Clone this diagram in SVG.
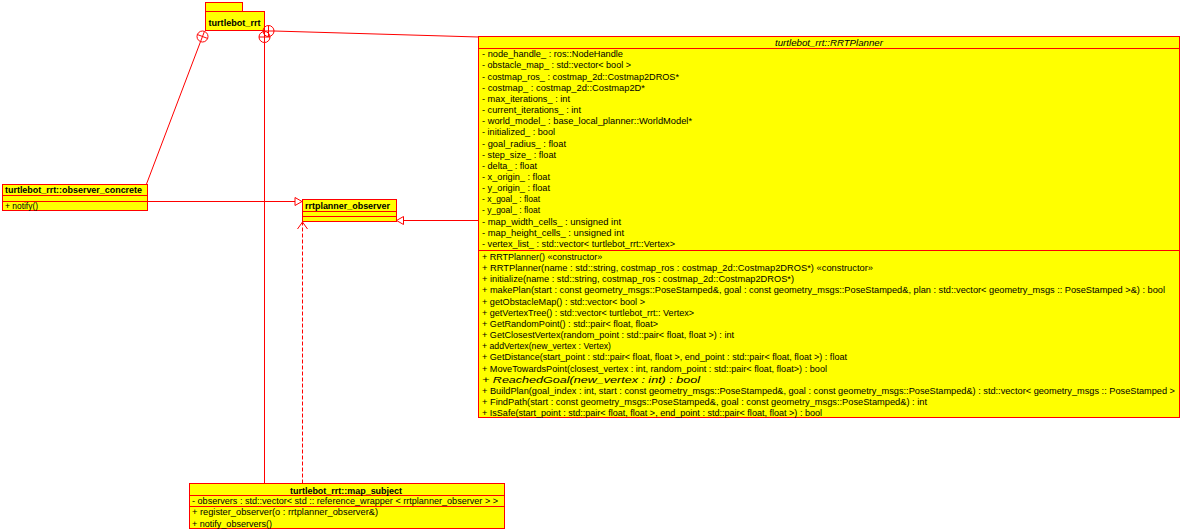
<svg xmlns="http://www.w3.org/2000/svg" width="1183" height="529" viewBox="0 0 1183 529">
  <style>
    .box { fill: #FFFF00; stroke: #FF0000; stroke-width: 1; }
    .sep { stroke: #FF0000; stroke-width: 1; fill: none; }
    .edge { stroke: #FF0000; stroke-width: 1; fill: none; }
    .dash { stroke-dasharray: 4 2; }
    .head { fill: #FFFFFF; stroke: #FF0000; stroke-width: 1; }
    text { font-family: "Liberation Sans", Arial, sans-serif; font-size: 9px; fill: #000000; }
    .name { font-weight: bold; }
    .abstract { font-style: italic; }
  </style>

  <!-- package -->
  <g id="pkg_turtlebot_rrt">
    <rect class="box" x="205.5" y="2.5" width="37" height="9"/>
    <rect class="box" x="205.5" y="11.5" width="59" height="19"/>
    <text class="name" x="208.5" y="25.5" textLength="52" lengthAdjust="spacingAndGlyphs">turtlebot_rrt</text>
  </g>

  <!-- connectors -->
  <g id="connectors">
    <!-- containment: package to observer_concrete -->
    <line class="edge" x1="146.5" y1="184" x2="200.53" y2="41.64"/>
    <circle class="edge" cx="202.5" cy="36.5" r="5.5"/>
    <line class="edge" x1="204.47" y1="31.36" x2="200.53" y2="41.64"/>
    <line class="edge" x1="197.36" y1="34.53" x2="207.64" y2="38.47"/>

    <!-- containment: package to map_subject -->
    <line class="edge" x1="264.5" y1="42.5" x2="264.5" y2="483.5"/>
    <circle class="edge" cx="264.5" cy="37" r="5.5"/>
    <line class="edge" x1="264.5" y1="31.5" x2="264.5" y2="42.5"/>
    <line class="edge" x1="259" y1="37" x2="270" y2="37"/>

    <!-- containment: package to RRTPlanner -->
    <line class="edge" x1="274" y1="31" x2="478.5" y2="37"/>
    <circle class="edge" cx="268.5" cy="31" r="5.5"/>
    <line class="edge" x1="263" y1="31" x2="274" y2="31"/>
    <line class="edge" x1="268.5" y1="25.5" x2="268.5" y2="36.5"/>

    <!-- generalization: observer_concrete to rrtplanner_observer -->
    <line class="edge" x1="147.5" y1="201.5" x2="295" y2="201.5"/>
    <polygon class="head" points="302,201.5 295,197.5 295,205.5"/>

    <!-- generalization: RRTPlanner to rrtplanner_observer -->
    <line class="edge" x1="478.5" y1="220.5" x2="403.5" y2="220.5"/>
    <polygon class="head" points="396.5,220.5 403.5,216.5 403.5,224.5"/>

    <!-- realization: map_subject to rrtplanner_observer -->
    <line class="edge dash" x1="302.5" y1="483.5" x2="302.5" y2="222.5"/>
    <polyline class="edge" points="297.5,229 302.5,222 307.5,229"/>
  </g>

  <!-- observer_concrete -->
  <g id="observer_concrete">
    <rect class="box" x="2.5" y="184.5" width="145" height="26"/>
    <line class="sep" x1="2.5" y1="195.5" x2="147.5" y2="195.5"/>
    <line class="sep" x1="2.5" y1="201.5" x2="147.5" y2="201.5"/>
    <text class="name" x="5" y="192.5" textLength="137" lengthAdjust="spacingAndGlyphs">turtlebot_rrt::observer_concrete</text>
    <text x="5" y="209" textLength="33" lengthAdjust="spacingAndGlyphs">+ notify()</text>
  </g>

  <!-- rrtplanner_observer -->
  <g id="rrtplanner_observer">
    <rect class="box" x="302.5" y="199.5" width="94" height="22"/>
    <line class="sep" x1="302.5" y1="211.5" x2="396.5" y2="211.5"/>
    <line class="sep" x1="302.5" y1="216.5" x2="396.5" y2="216.5"/>
    <text class="name" x="305" y="208.5" textLength="85" lengthAdjust="spacingAndGlyphs">rrtplanner_observer</text>
  </g>

  <!-- RRTPlanner -->
  <g id="RRTPlanner">
    <rect class="box" x="478.5" y="36.5" width="701" height="381"/>
    <line class="sep" x1="478.5" y1="48.5" x2="1179.5" y2="48.5"/>
    <line class="sep" x1="478.5" y1="250.5" x2="1179.5" y2="250.5"/>
    <text class="abstract" x="775" y="45.5" textLength="108" lengthAdjust="spacingAndGlyphs">turtlebot_rrt::RRTPlanner</text>

    <text x="482" y="57.3" textLength="141" lengthAdjust="spacingAndGlyphs">- node_handle_ : ros::NodeHandle</text>
    <text x="482" y="68.45" textLength="149" lengthAdjust="spacingAndGlyphs">- obstacle_map_ : std::vector&lt; bool &gt;</text>
    <text x="482" y="79.6" textLength="197" lengthAdjust="spacingAndGlyphs">- costmap_ros_ : costmap_2d::Costmap2DROS*</text>
    <text x="482" y="90.75" textLength="163" lengthAdjust="spacingAndGlyphs">- costmap_ : costmap_2d::Costmap2D*</text>
    <text x="482" y="101.9" textLength="88" lengthAdjust="spacingAndGlyphs">- max_iterations_ : int</text>
    <text x="482" y="113.05" textLength="99" lengthAdjust="spacingAndGlyphs">- current_iterations_ : int</text>
    <text x="482" y="124.2" textLength="210" lengthAdjust="spacingAndGlyphs">- world_model_ : base_local_planner::WorldModel*</text>
    <text x="482" y="135.35" textLength="73" lengthAdjust="spacingAndGlyphs">- initialized_ : bool</text>
    <text x="482" y="146.5" textLength="84" lengthAdjust="spacingAndGlyphs">- goal_radius_ : float</text>
    <text x="482" y="157.65" textLength="74" lengthAdjust="spacingAndGlyphs">- step_size_ : float</text>
    <text x="482" y="168.8" textLength="55" lengthAdjust="spacingAndGlyphs">- delta_ : float</text>
    <text x="482" y="179.95" textLength="68" lengthAdjust="spacingAndGlyphs">- x_origin_ : float</text>
    <text x="482" y="191.1" textLength="68" lengthAdjust="spacingAndGlyphs">- y_origin_ : float</text>
    <text x="482" y="202.25" textLength="58" lengthAdjust="spacingAndGlyphs">- x_goal_ : float</text>
    <text x="482" y="213.4" textLength="58" lengthAdjust="spacingAndGlyphs">- y_goal_ : float</text>
    <text x="482" y="224.55" textLength="139" lengthAdjust="spacingAndGlyphs">- map_width_cells_ : unsigned int</text>
    <text x="482" y="235.7" textLength="142" lengthAdjust="spacingAndGlyphs">- map_height_cells_ : unsigned int</text>
    <text x="482" y="246.85" textLength="193" lengthAdjust="spacingAndGlyphs">- vertex_list_ : std::vector&lt; turtlebot_rrt::Vertex&gt;</text>

    <text x="482" y="260">+ RRTPlanner() «constructor»</text>
    <text x="482" y="271.15" textLength="391" lengthAdjust="spacingAndGlyphs">+ RRTPlanner(name : std::string, costmap_ros : costmap_2d::Costmap2DROS*) «constructor»</text>
    <text x="482" y="282.3" textLength="312" lengthAdjust="spacingAndGlyphs">+ initialize(name : std::string, costmap_ros : costmap_2d::Costmap2DROS*)</text>
    <text x="482" y="293.45" textLength="683" lengthAdjust="spacingAndGlyphs">+ makePlan(start : const geometry_msgs::PoseStamped&amp;, goal : const geometry_msgs::PoseStamped&amp;, plan : std::vector&lt; geometry_msgs :: PoseStamped &gt;&amp;) : bool</text>
    <text x="482" y="304.6" textLength="163" lengthAdjust="spacingAndGlyphs">+ getObstacleMap() : std::vector&lt; bool &gt;</text>
    <text x="482" y="315.75" textLength="212" lengthAdjust="spacingAndGlyphs">+ getVertexTree() : std::vector&lt; turtlebot_rrt:: Vertex&gt;</text>
    <text x="482" y="326.9" textLength="176" lengthAdjust="spacingAndGlyphs">+ GetRandomPoint() : std::pair&lt; float, float&gt;</text>
    <text x="482" y="338.05" textLength="252" lengthAdjust="spacingAndGlyphs">+ GetClosestVertex(random_point : std::pair&lt; float, float &gt;) : int</text>
    <text x="482" y="349.2" textLength="129" lengthAdjust="spacingAndGlyphs">+ addVertex(new_vertex : Vertex)</text>
    <text x="482" y="360.35" textLength="365" lengthAdjust="spacingAndGlyphs">+ GetDistance(start_point : std::pair&lt; float, float &gt;, end_point : std::pair&lt; float, float &gt;) : float</text>
    <text x="482" y="371.5" textLength="345" lengthAdjust="spacingAndGlyphs">+ MoveTowardsPoint(closest_vertex : int, random_point : std::pair&lt; float, float&gt;) : bool</text>
    <text class="abstract" x="482" y="382.65" font-size="9.5" textLength="218" lengthAdjust="spacingAndGlyphs">+ ReachedGoal(new_vertex : int) : bool</text>
    <text x="482" y="393.8" textLength="693" lengthAdjust="spacingAndGlyphs">+ BuildPlan(goal_index : int, start : const geometry_msgs::PoseStamped&amp;, goal : const geometry_msgs::PoseStamped&amp;) : std::vector&lt; geometry_msgs :: PoseStamped &gt;</text>
    <text x="482" y="404.95" textLength="445" lengthAdjust="spacingAndGlyphs">+ FindPath(start : const geometry_msgs::PoseStamped&amp;, goal : const geometry_msgs::PoseStamped&amp;) : int</text>
    <text x="482" y="416.1" textLength="340" lengthAdjust="spacingAndGlyphs">+ IsSafe(start_point : std::pair&lt; float, float &gt;, end_point : std::pair&lt; float, float &gt;) : bool</text>
  </g>

  <!-- map_subject -->
  <g id="map_subject">
    <rect class="box" x="189.5" y="483.5" width="315" height="45"/>
    <line class="sep" x1="189.5" y1="495.5" x2="504.5" y2="495.5"/>
    <line class="sep" x1="189.5" y1="506.5" x2="504.5" y2="506.5"/>
    <text class="name" x="290" y="493.5" textLength="112" lengthAdjust="spacingAndGlyphs">turtlebot_rrt::map_subject</text>
    <text x="192" y="504" textLength="306" lengthAdjust="spacingAndGlyphs">- observers : std::vector&lt; std :: reference_wrapper &lt; rrtplanner_observer &gt; &gt;</text>
    <text x="192" y="515" textLength="186" lengthAdjust="spacingAndGlyphs">+ register_observer(o : rrtplanner_observer&amp;)</text>
    <text x="192" y="526.5" textLength="80" lengthAdjust="spacingAndGlyphs">+ notify_observers()</text>
  </g>
</svg>
